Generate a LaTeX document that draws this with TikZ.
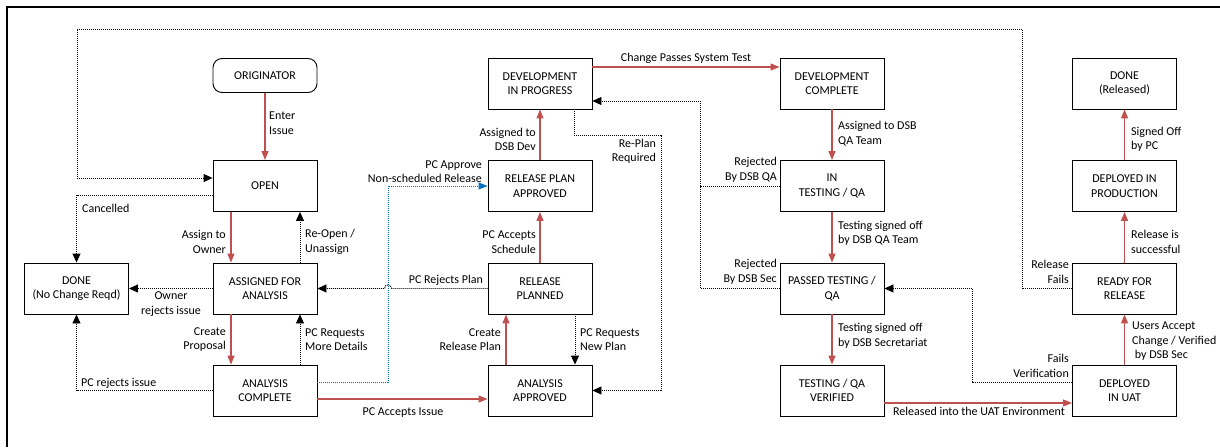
\documentclass[tikz,border=0pt]{standalone}
\usepackage{fontspec}
\setmainfont{Carlito}
\usetikzlibrary{arrows.meta,calc}
\definecolor{flowred}{HTML}{C0504D}
\definecolor{flowblue}{HTML}{0070C0}
\newcommand{\lblfont}{\fontsize{12}{14.5}\selectfont}
\tikzset{
  box/.style={draw, line width=0.9pt, minimum width=104pt, minimum height=51pt, align=center, inner sep=0pt, font=\lblfont},
  redarr/.style={draw=flowred, line width=1.2pt, -{Triangle[length=9pt,width=7pt]}, color=flowred},
  dotarr/.style={line width=0.9pt, dash pattern=on 1pt off 1pt, -{Triangle[length=9pt,width=8pt]}},
  dotline/.style={line width=0.9pt, dash pattern=on 1pt off 1pt},
  bluearr/.style={draw=flowblue, color=flowblue, line width=0.9pt, dash pattern=on 1pt off 1pt, -{Triangle[length=9pt,width=7pt]}},
  lbl/.style={font=\lblfont, inner sep=0pt},
}
\begin{document}
\begin{tikzpicture}[x=1pt,y=-1pt]
\useasboundingbox (0,0) rectangle (1220,447);
\draw[line width=1.2pt] (7,447) -- (7,7) -- (1220,7);

% nodes
\node[box, rounded corners=9pt, minimum height=34pt] (orig) at (265,75.5) {ORIGINATOR};
\node[box] (open) at (265,186) {OPEN};
\node[box] (done1) at (76.5,288.5) {DONE\\(No Change Reqd)};
\node[box] (assigned) at (265,288.5) {ASSIGNED FOR\\ANALYSIS};
\node[box] (ac) at (265,390.5) {ANALYSIS\\COMPLETE};
\node[box] (dip) at (540,83.5) {DEVELOPMENT\\IN PROGRESS};
\node[box] (rpa) at (540,186) {RELEASE PLAN\\APPROVED};
\node[box] (rp) at (540,288.5) {RELEASE\\PLANNED};
\node[box] (aa) at (540,390.5) {ANALYSIS\\APPROVED};
\node[box] (dc) at (832,83.5) {DEVELOPMENT\\COMPLETE};
\node[box] (it) at (832,186) {IN\\TESTING / QA};
\node[box] (pt) at (832,288.5) {PASSED TESTING /\\QA};
\node[box] (tv) at (832,390.5) {TESTING / QA\\VERIFIED};
\node[box] (dr) at (1124.5,83.5) {DONE\\(Released)};
\node[box] (dp) at (1124.5,186) {DEPLOYED IN\\PRODUCTION};
\node[box] (rr) at (1124.5,288.5) {READY FOR\\RELEASE};
\node[box] (uat) at (1124.5,390.5) {DEPLOYED\\IN UAT};

% helper coordinates
\coordinate (loopR) at (1022,29);
\coordinate (loopL) at (77,29);
\coordinate (bx) at (388,186);
\coordinate (rpc) at (661,135);
\coordinate (rq) at (700,101);
\coordinate (fv) at (972,288.5);

% red connectors
\draw[redarr] (orig.south) -- (open.north);
\draw[redarr] ([xshift=-34pt]open.south) -- ([xshift=-34pt]assigned.north);
\draw[redarr] ([xshift=-34pt]assigned.south) -- ([xshift=-34pt]ac.north);
\draw[redarr] ([yshift=-8.5pt]ac.east) -- ([yshift=-8.5pt]aa.west);
\draw[redarr] ([xshift=-34pt]aa.north) -- ([xshift=-34pt]rp.south);
\draw[redarr] (rp.north) -- (rpa.south);
\draw[redarr] (rpa.north) -- (dip.south);
\draw[redarr] ([yshift=16.5pt]dip.east) -- ([yshift=16.5pt]dc.west);
\draw[redarr] (dc.south) -- (it.north);
\draw[redarr] (it.south) -- (pt.north);
\draw[redarr] (pt.south) -- (tv.north);
\draw[redarr] ([yshift=-12.5pt]tv.east) -- ([yshift=-12.5pt]uat.west);
\draw[redarr] (uat.north) -- (rr.south);
\draw[redarr] (rr.north) -- (dp.south);
\draw[redarr] (dp.north) -- (dr.south);

% dotted connectors
\draw[dotarr] ([xshift=35pt]assigned.north) -- ([xshift=35pt]open.south);
\draw[dotarr] ([xshift=35pt]ac.north) -- ([xshift=35pt]assigned.south);
\draw[dotarr] (assigned.west) -- (done1.east);
\draw[dotarr] ([yshift=-9pt]open.west) -| (done1.north);
\draw[dotarr] (ac.west) -| (done1.south);
\draw[dotarr] (rr.west) -| (loopR) -- (loopL) |- ([yshift=8pt]open.west);
\draw[dotarr] (rp.west) -- (391.5,288.5) .. controls (391.5,283.5) and (384.5,283.5) .. (384.5,288.5) -- (assigned.east);
\draw[dotarr] ([xshift=35pt]rp.south) -- ([xshift=35pt]aa.north);
\draw[dotarr] ([xshift=34pt]dip.south) |- (rpc) |- (aa.east);
\draw[dotarr] (it.west) -| (rq) -- ([yshift=-17.5pt]dip.east);
\draw[dotline] (pt.west) -| (it.west -| rq);
\draw[dotarr] ([yshift=8.5pt]uat.west) -| (fv) -- (pt.east);
\draw[bluearr] ([yshift=8.5pt]ac.east) -| (bx) -- (rpa.west);

% labels
\node[lbl, anchor=west, align=left] (l1) at (269,123) {Enter\\Issue};
\node[lbl, anchor=east, align=right] (l2) at (226,242) {Assign to\\Owner};
\node[lbl, anchor=west, align=left] (l3) at (305,242) {Re-Open /\\Unassign};
\node[lbl, align=center] (l4) at (171,304) {Owner\\rejects issue};
\node[lbl, anchor=east, align=right] (l5) at (226,339.5) {Create\\Proposal};
\node[lbl, anchor=west, align=left] (l6) at (305,339.5) {PC Requests\\More Details};
\node[lbl, anchor=west] (l7) at (81,383) {PC rejects issue};
\node[lbl, anchor=west] (l8) at (82,208) {Cancelled};
\node[lbl] (l9) at (403,413) {PC Accepts Issue};
\node[lbl, anchor=east, align=right] (l10) at (482,171.5) {PC Approve\\Non-scheduled Release};
\node[lbl, anchor=east] (l11) at (483,280) {PC Rejects Plan};
\node[lbl, anchor=east, align=right] (l12) at (536,139.5) {Assigned to\\DSB Dev};
\node[lbl, anchor=east, align=right] (l13) at (656,151.5) {Re-Plan\\Required};
\node[lbl, anchor=east, align=right] (l14) at (777,170) {Rejected\\By DSB QA};
\node[lbl, anchor=east, align=right] (l15) at (536,242) {PC Accepts\\Schedule};
\node[lbl, anchor=east, align=right] (l16) at (501,339.5) {Create\\Release Plan};
\node[lbl, anchor=west, align=left] (l17) at (580,339.5) {PC Requests\\New Plan};
\node[lbl, anchor=east, align=right] (l18) at (777,272) {Rejected\\By DSB Sec};
\node[lbl] (l19) at (686,58) {Change Passes System Test};
\node[lbl, anchor=west, align=left] (l20) at (838,133.5) {Assigned to DSB\\QA Team};
\node[lbl, anchor=west, align=left] (l21) at (838,233.5) {Testing signed off\\by DSB QA Team};
\node[lbl, anchor=west, align=left] (l22) at (838,336) {Testing signed off\\by DSB Secretariat};
\node[lbl] (l23) at (979,411) {Released into the UAT Environment};
\node[lbl, anchor=east, align=right] (l24) at (1069,366) {Fails\\Verification};
\node[lbl, anchor=east, align=right] (l25) at (1069,272) {Release\\Fails};
\node[lbl, anchor=west, align=left] (l26) at (1132,341.5) {Users Accept\\Change / Verified\\\ by DSB Sec};
\node[lbl, anchor=west, align=left] (l27) at (1131,242) {Release is\\successful};
\node[lbl, anchor=west, align=left] (l28) at (1131,139.5) {Signed Off\\by PC};
\end{tikzpicture}
\end{document}
